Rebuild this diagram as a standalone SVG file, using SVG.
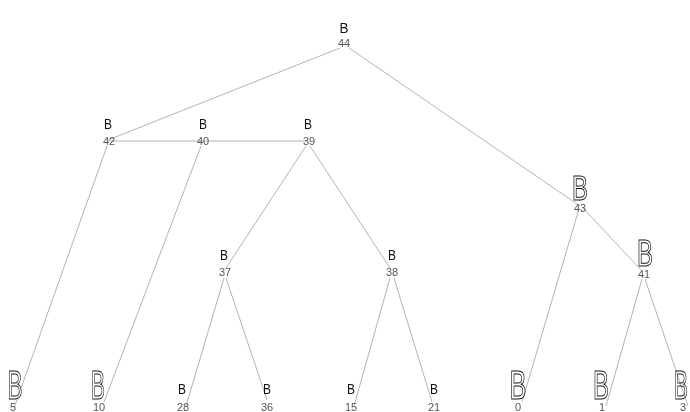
<svg xmlns="http://www.w3.org/2000/svg" width="690" height="412" viewBox="0 0 690 412">
<defs>
<filter id="gray" x="0" y="0" width="1" height="1"><feColorMatrix type="saturate" values="0"/></filter>
</defs>
<style>
.e{stroke:#b4b4b4;stroke-width:1;fill:none}
.l{font-family:"Liberation Sans",Arial,sans-serif;font-size:11px;fill:#555;text-anchor:middle}
.bs{font-family:"Liberation Sans",Arial,sans-serif;fill:#111;text-anchor:middle;font-weight:normal}
.bo{font-family:"Liberation Sans",Arial,sans-serif;fill:none;stroke:#111;stroke-width:1;text-anchor:middle}
</style>
<rect width="690" height="412" fill="#fff"/>
<g id="edges">
<line class="e" x1="340" y1="48" x2="108" y2="140"/>
<line class="e" x1="349" y1="48" x2="580" y2="206"/>
<line class="e" x1="108" y1="141" x2="308" y2="141"/>
<line class="e" x1="107" y1="146" x2="14" y2="408"/>
<line class="e" x1="201" y1="146" x2="104" y2="402"/>
<line class="e" x1="306" y1="146" x2="226" y2="268"/>
<line class="e" x1="310" y1="146" x2="390" y2="268"/>
<line class="e" x1="224" y1="278" x2="186" y2="406"/>
<line class="e" x1="226" y1="278" x2="267" y2="400"/>
<line class="e" x1="390" y1="278" x2="354" y2="406"/>
<line class="e" x1="394" y1="278" x2="432" y2="402"/>
<line class="e" x1="578" y1="212" x2="522" y2="402"/>
<line class="e" x1="583" y1="208" x2="641" y2="270"/>
<line class="e" x1="642" y1="279" x2="606" y2="406"/>
<line class="e" x1="645" y1="279" x2="688" y2="406"/>
</g>
<g id="nodes" filter="url(#gray)">
<rect width="690" height="412" fill="none"/>
<g id="n44"><text class="bs" x="344" y="33" font-size="15" textLength="9" lengthAdjust="spacingAndGlyphs">B</text><text class="l" x="344" y="47">44</text></g>
<g id="n42"><text class="bs" x="108" y="129" font-size="14" textLength="8" lengthAdjust="spacingAndGlyphs">B</text><text class="l" x="109" y="145">42</text></g>
<g id="n40"><text class="bs" x="203" y="129" font-size="14" textLength="8" lengthAdjust="spacingAndGlyphs">B</text><text class="l" x="203" y="145">40</text></g>
<g id="n39"><text class="bs" x="308" y="129" font-size="14" textLength="8" lengthAdjust="spacingAndGlyphs">B</text><text class="l" x="309" y="145">39</text></g>
<g id="n43"><text class="bo" x="580" y="200" font-size="35" textLength="16" lengthAdjust="spacingAndGlyphs">B</text><text class="l" x="580" y="212">43</text></g>
<g id="n41"><text class="bo" x="645" y="266" font-size="36" textLength="16" lengthAdjust="spacingAndGlyphs">B</text><text class="l" x="644" y="278">41</text></g>
<g id="n37"><text class="bs" x="224" y="260" font-size="14" textLength="8" lengthAdjust="spacingAndGlyphs">B</text><text class="l" x="225" y="276">37</text></g>
<g id="n38"><text class="bs" x="392" y="260" font-size="14" textLength="8" lengthAdjust="spacingAndGlyphs">B</text><text class="l" x="392" y="276">38</text></g>
<g id="n5"><text class="bo" x="15" y="399" font-size="41" textLength="15" lengthAdjust="spacingAndGlyphs">B</text><text class="l" x="13" y="411">5</text></g>
<g id="n10"><text class="bo" x="98" y="399" font-size="40" textLength="14" lengthAdjust="spacingAndGlyphs">B</text><text class="l" x="99" y="411">10</text></g>
<g id="n28"><text class="bs" x="182" y="394" font-size="14" textLength="8" lengthAdjust="spacingAndGlyphs">B</text><text class="l" x="183" y="411">28</text></g>
<g id="n36"><text class="bs" x="267" y="394" font-size="14" textLength="8" lengthAdjust="spacingAndGlyphs">B</text><text class="l" x="267" y="411">36</text></g>
<g id="n15"><text class="bs" x="351" y="394" font-size="15" textLength="8" lengthAdjust="spacingAndGlyphs">B</text><text class="l" x="351" y="411">15</text></g>
<g id="n21"><text class="bs" x="434" y="394" font-size="14" textLength="8" lengthAdjust="spacingAndGlyphs">B</text><text class="l" x="434" y="411">21</text></g>
<g id="n0"><text class="bo" x="518" y="399" font-size="40" textLength="17" lengthAdjust="spacingAndGlyphs">B</text><text class="l" x="518" y="411">0</text></g>
<g id="n1"><text class="bo" x="601" y="399" font-size="40" textLength="16" lengthAdjust="spacingAndGlyphs">B</text><text class="l" x="602" y="411">1</text></g>
<g id="n3"><text class="bo" x="681" y="399" font-size="40" textLength="14" lengthAdjust="spacingAndGlyphs">B</text><text class="l" x="683" y="411">3</text></g>
</g>
</svg>
